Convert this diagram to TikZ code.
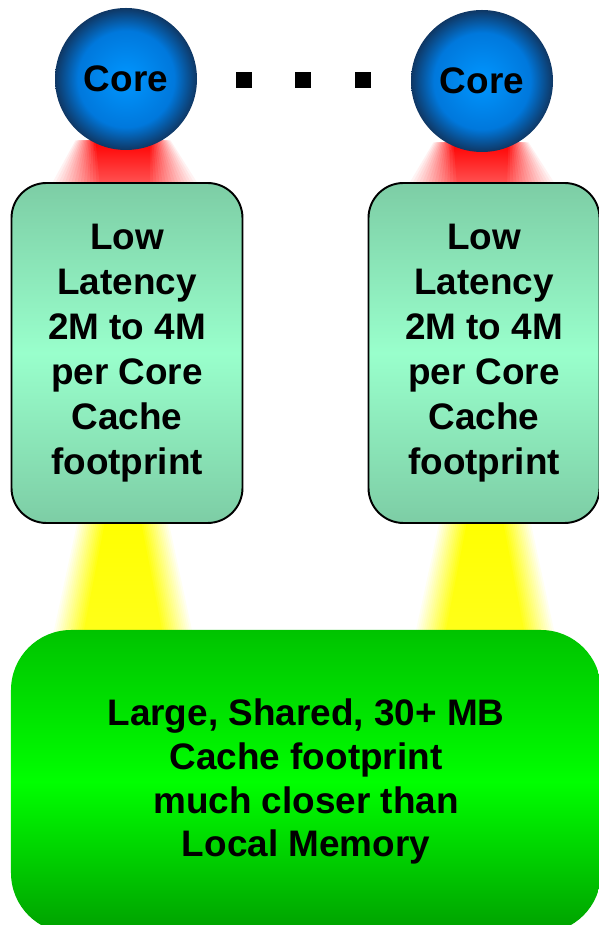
\documentclass[tikz,border=0pt]{standalone}
\usepackage{fontspec}
\setmainfont{Liberation Sans}
\usetikzlibrary{positioning}
\definecolor{boxgreen}{RGB}{125,205,165}
\definecolor{boxlight}{RGB}{153,255,204}
\definecolor{sharedtop}{RGB}{0,195,0}
\definecolor{sharedlight}{RGB}{0,255,0}
\definecolor{sharedbottom}{RGB}{0,160,0}
\definecolor{corehi}{RGB}{0,150,255}
\definecolor{coremid}{RGB}{0,120,220}
\definecolor{corelo}{RGB}{15,55,100}
\pgfdeclareradialshading{coreball}{\pgfpoint{0bp}{0bp}}{color(0bp)=(corehi); color(17bp)=(coremid); color(25bp)=(corelo); color(50bp)=(corelo)}
\pgfdeclarelayer{background}
\pgfsetlayers{background,main}
% soft glow: #1 colour, #2 strength at the bottom (0..1), #3 top point, #4 bottom point,
% #5/#6 outer/inner half width at top, #7/#8 outer/inner half width at bottom
\newcommand{\drawglow}[8]{%
  \foreach \k in {0,...,15}{
    \pgfmathsetmacro\tw{#5-(#5-#6)*\k/15}
    \pgfmathsetmacro\bw{#7-(#7-#8)*\k/15}
    \pgfmathsetmacro\pt{100*(\k+1)/16}
    \pgfmathsetmacro\pb{#2*100*(\k+1)/16}
    \shade[top color=#1!\pt!white,bottom color=#1!\pb!white]
      ([xshift=-\tw cm]#3) -- ([xshift=\tw cm]#3)
      -- ([xshift=\bw cm]#4) -- ([xshift=-\bw cm]#4) -- cycle;
  }}

\begin{document}
\begin{tikzpicture}[
  bigfont/.style={font=\bfseries\fontsize{21}{25.6}\selectfont},
  core/.style={circle,minimum size=2.84cm,inner sep=0,shade,shading=coreball,bigfont},
  dotsq/.style={minimum size=0.32cm,inner sep=0,fill=black},
  cachebox/.style={draw,line width=1.1pt,rounded corners=0.7cm,minimum width=4.62cm,minimum height=6.8cm,
    top color=boxgreen,bottom color=boxgreen,middle color=boxlight,align=center,bigfont},
  sharedbox/.style={rounded corners=1.2cm,minimum width=11.8cm,minimum height=6.06cm,
    top color=sharedtop,bottom color=sharedbottom,middle color=sharedlight,align=center,
    font=\bfseries\fontsize{21}{25}\selectfont}]
\useasboundingbox (0,0) rectangle (11.98,18.5);
\clip (0,0) rectangle (11.98,18.5);

\node[core] (coreA) at (2.52,16.92) {Core};
\node[core] (coreB) at (9.64,16.88) {Core};

\node[dotsq] (dotA) at (4.88,16.9) {};
\node[dotsq] (dotB) at (6.06,16.9) {};
\node[dotsq] (dotC) at (7.26,16.9) {};

\node[cachebox] (cacheA) at (2.54,11.44) {Low\\Latency\\2M to 4M\\per Core\\Cache\\footprint};
\node[cachebox] (cacheB) at (9.68,11.44) {Low\\Latency\\2M to 4M\\per Core\\Cache\\footprint};

\node[sharedbox] (shared) at (6.12,2.87) {Large, Shared, 30+ MB\\Cache footprint\\much closer than\\Local Memory};

\coordinate (redAtop) at ([xshift=-0.06cm,yshift=0.2cm]coreA.south);
\coordinate (redAbot) at ([xshift=-0.04cm,yshift=-0.1cm]cacheA.north);
\coordinate (redBtop) at ([xshift=-0.02cm,yshift=0.2cm]coreB.south);
\coordinate (redBbot) at ([xshift=-0.04cm,yshift=-0.1cm]cacheB.north);
\coordinate (yelAtop) at ([xshift=-0.08cm,yshift=0.1cm]cacheA.south);
\coordinate (yelAbot) at ([xshift=-0.08cm,yshift=-0.1cm]cacheA.south |- shared.north);
\coordinate (yelBtop) at ([xshift=0.02cm,yshift=0.1cm]cacheB.south);
\coordinate (yelBbot) at ([xshift=0.02cm,yshift=-0.1cm]cacheB.south |- shared.north);

\begin{pgfonlayer}{background}
%red glow core -> cache
\drawglow{red}{0.65}{redAtop}{redAbot}{0.95}{0.55}{1.5}{0.5}
\drawglow{red}{0.65}{redBtop}{redBbot}{0.95}{0.55}{1.5}{0.5}
%yellow glow cache -> shared
\drawglow{yellow}{0.9}{yelAtop}{yelAbot}{0.9}{0.35}{1.4}{0.8}
\drawglow{yellow}{0.9}{yelBtop}{yelBbot}{0.9}{0.35}{1.4}{0.8}
\end{pgfonlayer}
\end{tikzpicture}
\end{document}
